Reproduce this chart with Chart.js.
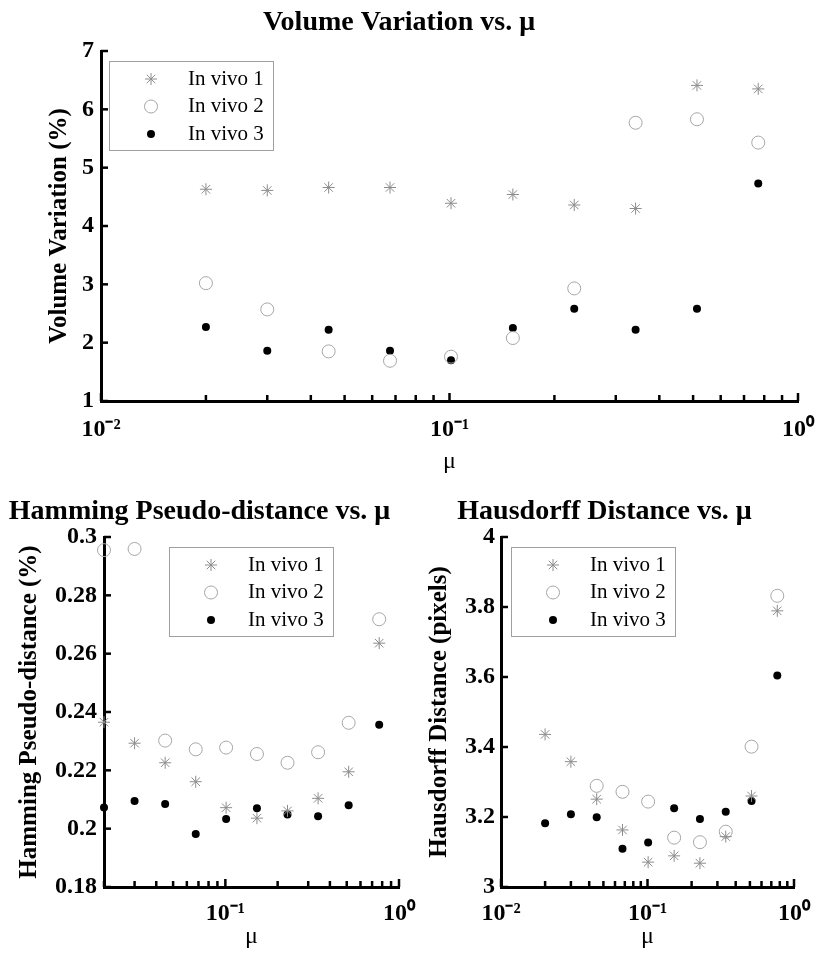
<!DOCTYPE html>
<html>
<head>
<meta charset="utf-8">
<script src="https://cdn.jsdelivr.net/npm/chart.js@4.4.1/dist/chart.umd.min.js"></script>
<style>
  html, body { margin: 0; padding: 0; background: #fff; }
  #page { position: relative; width: 829px; height: 965px; overflow: hidden; }
  #page canvas { position: absolute; }
</style>
</head>
<body>
<div id="page">
  <canvas id="volumeChart" width="829" height="480" style="left:0;top:0"></canvas>
  <canvas id="hammingChart" width="425" height="485" style="left:0;top:480px"></canvas>
  <canvas id="hausdorffChart" width="414" height="485" style="left:415px;top:480px"></canvas>
</div>
<script>
const seriesNames = ['In vivo 1', 'In vivo 2', 'In vivo 3'];
const mu = [0.02, 0.03, 0.045, 0.0675, 0.101, 0.152, 0.228, 0.342, 0.513, 0.769];

const volume1 = [4.63, 4.61, 4.66, 4.66, 4.39, 4.54, 4.36, 4.30, 6.41, 6.35];
const volume2 = [3.02, 2.57, 1.85, 1.69, 1.76, 2.08, 2.93, 5.77, 5.83, 5.43];
const volume3 = [2.27, 1.86, 2.22, 1.86, 1.70, 2.25, 2.58, 2.22, 2.58, 4.73];

const hamming1 = [0.2365, 0.2293, 0.2226, 0.2161, 0.2072, 0.2036, 0.2061, 0.2104, 0.2195, 0.2636];
const hamming2 = [0.2955, 0.2959, 0.2302, 0.2272, 0.2278, 0.2256, 0.2226, 0.2262, 0.2363, 0.2718];
const hamming3 = [0.2073, 0.2095, 0.2085, 0.1982, 0.2033, 0.2070, 0.2049, 0.2043, 0.2080, 0.2356];

const hausdorff1 = [3.436, 3.358, 3.251, 3.163, 3.071, 3.089, 3.068, 3.144, 3.260, 3.789];
const hausdorff2 = [null, null, 3.289, 3.272, 3.244, 3.141, 3.128, 3.158, 3.401, 3.832];
const hausdorff3 = [3.182, 3.208, 3.199, 3.109, 3.127, 3.225, 3.194, 3.215, 3.246, 3.604];

const muTicks = [0.01, 0.02, 0.03, 0.04, 0.05, 0.06, 0.07, 0.08, 0.09,
                 0.1, 0.2, 0.3, 0.4, 0.5, 0.6, 0.7, 0.8, 0.9, 1];
const decadeLabels = { '0.01': '10⁻²', '0.1': '10⁻¹', '1': '10⁰' };
const volumeTicks = [1, 2, 3, 4, 5, 6, 7];
const hammingTicks = [0.18, 0.2, 0.22, 0.24, 0.26, 0.28, 0.3];
const hausdorffTicks = [3, 3.2, 3.4, 3.6, 3.8, 4];

const SERIF = '"Liberation Serif", "Times New Roman", serif';

function points(xs, ys) {
  return xs.map((x, i) => ({ x, y: ys[i] })).filter(p => p.y !== null);
}

function makeDatasets(y1, y2, y3) {
  return [{
    label: seriesNames[0],
    data: points(mu, y1),
    pointStyle: 'star',
    pointRadius: 6,
    pointBorderWidth: 1,
    pointBorderColor: '#8c8c8c',
    pointBackgroundColor: 'rgba(0,0,0,0)',
    clip: false
  }, {
    label: seriesNames[1],
    data: points(mu, y2),
    pointStyle: 'circle',
    pointRadius: 6.5,
    pointBorderWidth: 1,
    pointBorderColor: '#a6a6a6',
    pointBackgroundColor: 'rgba(0,0,0,0)',
    clip: false
  }, {
    label: seriesNames[2],
    data: points(mu, y3),
    pointStyle: 'circle',
    pointRadius: 4,
    pointBorderWidth: 0,
    pointBorderColor: '#000',
    pointBackgroundColor: '#000',
    clip: false
  }];
}

// matlab style ticks pointing into the plot
const inwardTicks = {
  id: 'inwardTicks',
  beforeDatasetsDraw(chart) {
    const ctx = chart.ctx;
    const { x, y } = chart.scales;
    ctx.save();
    ctx.strokeStyle = '#000';
    ctx.lineWidth = 2.5;
    x.ticks.forEach(t => {
      const px = x.getPixelForValue(t.value);
      const len = decadeLabels[String(t.value)] ? 8 : 6;
      ctx.beginPath();
      ctx.moveTo(px, x.top);
      ctx.lineTo(px, x.top - len);
      ctx.stroke();
    });
    y.ticks.forEach(t => {
      const py = y.getPixelForValue(t.value);
      ctx.beginPath();
      ctx.moveTo(y.right, py);
      ctx.lineTo(y.right + 7, py);
      ctx.stroke();
    });
    ctx.restore();
  }
};

function boxLegend(dx, dy) {
  return {
    id: 'boxLegend',
    afterDatasetsDraw(chart) {
      const ctx = chart.ctx;
      const left = Math.round(chart.chartArea.left + dx);
      const top = Math.round(chart.chartArea.top + dy);
      ctx.save();
      ctx.fillStyle = '#fff';
      ctx.fillRect(left, top, 164, 89);
      ctx.strokeStyle = '#a0a0a0';
      ctx.lineWidth = 1;
      ctx.strokeRect(left + 0.5, top + 0.5, 164, 89);
      chart.data.datasets.forEach((ds, i) => {
        const rowY = top + 18 + i * 27.5;
        ctx.fillStyle = ds.pointBackgroundColor;
        ctx.strokeStyle = ds.pointBorderColor;
        ctx.lineWidth = ds.pointBorderWidth;
        Chart.helpers.drawPoint(ctx, {
          pointStyle: ds.pointStyle,
          radius: ds.pointRadius,
          rotation: 0,
          borderWidth: ds.pointBorderWidth
        }, left + 42, rowY);
        ctx.fillStyle = '#000';
        ctx.font = '21px ' + SERIF;
        ctx.textBaseline = 'middle';
        ctx.textAlign = 'left';
        ctx.fillText(ds.label, left + 79, rowY);
      });
      ctx.restore();
    }
  };
}

function makeChart(id, cfg) {
  return new Chart(document.getElementById(id), {
    type: 'scatter',
    data: { datasets: makeDatasets(cfg.y1, cfg.y2, cfg.y3) },
    options: {
      responsive: false,
      animation: false,
      events: [],
      layout: { padding: { left: 0, top: 0, bottom: 0, right: cfg.padRight } },
      plugins: {
        legend: { display: false },
        tooltip: { enabled: false },
        title: {
          display: true,
          text: cfg.title,
          color: '#000',
          font: { family: SERIF, size: 28, weight: 'bold' },
          padding: cfg.titlePad
        }
      },
      scales: {
        x: {
          type: 'logarithmic',
          min: cfg.xMin,
          max: 1,
          afterBuildTicks: s => {
            s.ticks = muTicks.filter(v => v >= cfg.xMin - 1e-9).map(v => ({ value: v, major: !!decadeLabels[String(v)] }));
          },
          afterFit: s => { s.height = cfg.xHeight; s.paddingLeft = 0; s.paddingRight = 0; },
          grid: { display: false, drawTicks: false },
          border: { display: true, color: '#000', width: 3 },
          ticks: {
            autoSkip: false,
            maxRotation: 0,
            color: '#000',
            padding: cfg.xTickPad,
            font: { family: SERIF, size: 24, weight: 'bold' },
            callback: v => decadeLabels[String(v)] || ''
          },
          title: {
            display: true,
            text: 'μ',
            color: '#000',
            font: { family: SERIF, size: 24 },
            padding: { top: 0, bottom: cfg.xTitlePad }
          }
        },
        y: {
          min: cfg.yTicks[0],
          max: cfg.yTicks[cfg.yTicks.length - 1],
          afterBuildTicks: s => { s.ticks = cfg.yTicks.map(v => ({ value: v })); },
          afterFit: s => { s.width = cfg.yWidth; s.paddingTop = 0; s.paddingBottom = 0; },
          grid: { display: false, drawTicks: false },
          border: { display: true, color: '#000', width: 3 },
          ticks: {
            color: '#000',
            padding: cfg.yTickPad,
            font: { family: SERIF, size: 24, weight: 'bold' },
            callback: v => String(v)
          },
          title: {
            display: true,
            text: cfg.yTitle,
            color: '#000',
            font: { family: SERIF, size: 25, weight: 'bold' },
            padding: { top: cfg.yTitlePad, bottom: 0 }
          }
        }
      }
    },
    plugins: [inwardTicks, boxLegend(cfg.legendDx, cfg.legendDy)]
  });
}

makeChart('volumeChart', {
  title: 'Volume Variation vs. μ',
  yTitle: 'Volume Variation (%)',
  y1: volume1, y2: volume2, y3: volume3,
  yTicks: volumeTicks,
  xMin: 0.01,
  padRight: 31,
  titlePad: { top: 6, bottom: 11.4 },
  yWidth: 101, yTitlePad: 45, yTickPad: 7,
  xHeight: 79, xTickPad: 14, xTitlePad: 3.6,
  legendDx: 8, legendDy: 10
});

makeChart('hammingChart', {
  title: 'Hamming Pseudo-distance vs. μ',
  yTitle: 'Hamming Pseudo-distance (%)',
  y1: hamming1, y2: hamming2, y3: hamming3,
  yTicks: hammingTicks,
  xMin: 0.02,
  padRight: 26,
  titlePad: { top: 15.2, bottom: 8.2 },
  yWidth: 104, yTitlePad: 15, yTickPad: 7,
  xHeight: 78, xTickPad: 12, xTitlePad: 13.6,
  legendDx: 65, legendDy: 10
});

makeChart('hausdorffChart', {
  title: 'Hausdorff Distance vs. μ',
  yTitle: 'Hausdorff Distance (pixels)',
  y1: hausdorff1, y2: hausdorff2, y3: hausdorff3,
  yTicks: hausdorffTicks,
  xMin: 0.01,
  padRight: 35,
  titlePad: { top: 15.2, bottom: 8.2 },
  yWidth: 86, yTitlePad: 10, yTickPad: 6,
  xHeight: 78, xTickPad: 12, xTitlePad: 13.6,
  legendDx: 10, legendDy: 10
});
</script>
</body>
</html>
